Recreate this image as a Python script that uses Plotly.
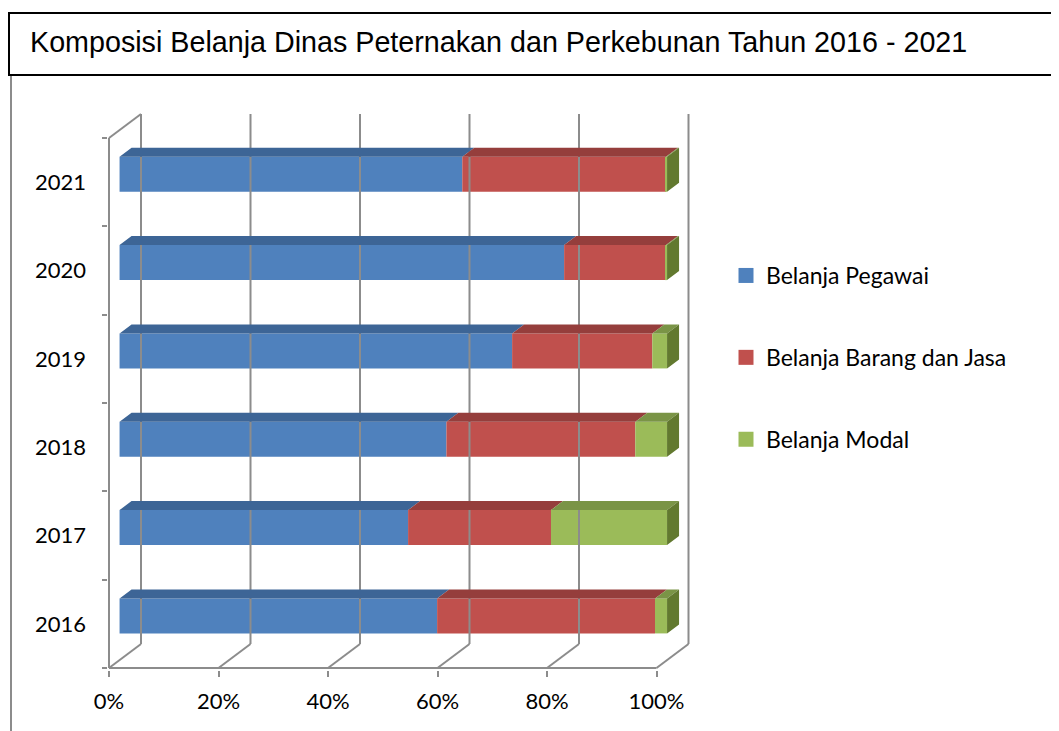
import plotly.graph_objects as go

# ---------------- data ----------------
years = ["2016", "2017", "2018", "2019", "2020", "2021"]
belanja_pegawai = [58.0, 52.7, 59.7, 71.7, 81.2, 62.6]
belanja_barang_jasa = [39.8, 26.1, 34.5, 25.6, 18.6, 37.2]
belanja_modal = [2.2, 21.2, 5.8, 2.7, 0.2, 0.2]
series_names = ["Belanja Pegawai", "Belanja Barang dan Jasa", "Belanja Modal"]
x_ticks = [0, 20, 40, 60, 80, 100]
x_tick_labels = ["0%", "20%", "40%", "60%", "80%", "100%"]
title_text = "Komposisi Belanja Dinas Peternakan dan Perkebunan Tahun 2016 - 2021"

# ---------------- styles ----------------
front_colors = ["#4F81BD", "#C0504D", "#9BBB59"]
top_colors = ["#3D6596", "#953E3C", "#7A9446"]
side_colors = ["#345783", "#7F3533", "#62792F"]
grid_color = "#8C8C8C"
label_font = "Lato, Calibri, sans-serif"

# ---------------- geometry (screen px, page body has 8px margin) ----------------
W, H = 1059, 731
OFF = 8
PL, PR, PT, PB = 108, 700, 110, 670       # plot area on screen
ML, MR, MT, MB = PL - OFF, W - (PR - OFF), PT - OFF, H - (PB - OFF)
PW = PR - PL
PH = PB - PT
XPX = 5.475   # px per percent
YPX = 88.33   # px per category
x_min = -1.0 / XPX
x_max = x_min + PW / XPX
y_min = -0.5 - 2.0 / YPX
y_max = y_min + PH / YPX


def depth(f):
    return f * 32 / XPX, f * 24 / YPX


Dx, Dy = depth(1.0)          # front plane -> back wall
bfx, bfy = depth(0.33)       # front face of bars
bbx, bby = depth(0.705)      # back face of bars
bar_h = 35 / YPX


def px_x(p):
    return (p - PL) / PW


def px_y(p):
    return (PB - p) / PH


n = len(years)
cats = list(range(n))
series = [belanja_pegawai, belanja_barang_jasa, belanja_modal]
totals = [sum(s[i] for s in series) for i in cats]

fig = go.Figure()

# ---------------- frame / gridlines ----------------
gx, gy = [], []
y_lo, y_hi = -0.5, n - 0.5
for t in x_ticks:
    gx += [t + Dx, t + Dx, None]
    gy += [y_lo + Dy, y_hi + Dy, None]
    gx += [t, t + Dx, None]
    gy += [y_lo, y_lo + Dy, None]
gx += [x_ticks[0], x_ticks[-1], None]
gy += [y_lo, y_lo, None]
gx += [x_ticks[0], x_ticks[0], None]
gy += [y_lo, y_hi, None]
gx += [x_ticks[0], x_ticks[0] + Dx, None]
gy += [y_hi, y_hi + Dy, None]
fig.add_trace(go.Scatter(x=gx, y=gy, mode="lines",
                         line=dict(color=grid_color, width=2),
                         hoverinfo="skip", showlegend=False))

# ---------------- bars ----------------
cum = [0.0] * n
ddx, ddy = bbx - bfx, bby - bfy
for k, vals in enumerate(series):
    bases = [cum[i] + bfx for i in cats]
    fig.add_trace(go.Bar(orientation="h", y=[i + bfy for i in cats], x=vals,
                         base=bases, width=bar_h,
                         marker=dict(color=front_colors[k], line=dict(width=0)),
                         hoverinfo="skip", showlegend=False))
    tx, ty = [], []
    for i in cats:
        x0 = cum[i] + bfx
        x1 = cum[i] + vals[i] + bfx
        yt = i + bfy + bar_h / 2
        tx += [x0, x1, x1 + ddx, x0 + ddx, x0, None]
        ty += [yt, yt, yt + ddy, yt + ddy, yt, None]
    fig.add_trace(go.Scatter(x=tx, y=ty, mode="lines", fill="toself",
                             fillcolor=top_colors[k], line=dict(width=0),
                             hoverinfo="skip", showlegend=False))
    cum = [cum[i] + vals[i] for i in cats]

# side faces (last visible segment)
for k in range(len(series)):
    sx, sy = [], []
    for i in cats:
        last = max(j for j in range(len(series)) if series[j][i] > 0)
        if last != k:
            continue
        xr = totals[i] + bfx
        yb = i + bfy - bar_h / 2
        yt = i + bfy + bar_h / 2
        sx += [xr, xr, xr + ddx, xr + ddx, xr, None]
        sy += [yb, yt, yt + ddy, yb + ddy, yb, None]
    if sx:
        fig.add_trace(go.Scatter(x=sx, y=sy, mode="lines", fill="toself",
                                 fillcolor=side_colors[k], line=dict(width=0),
                                 hoverinfo="skip", showlegend=False))

# ---------------- legend entries ----------------
for k, name in enumerate(series_names):
    fig.add_trace(go.Scatter(x=[None], y=[None], mode="markers", name=name,
                             legendgroup=name,
                             marker=dict(symbol="square", size=15,
                                         color=front_colors[k])))

# ---------------- layout ----------------
fig.update_layout(
    width=W, height=H,
    margin=dict(l=ML, r=MR, t=MT, b=MB, pad=0),
    paper_bgcolor="white", plot_bgcolor="white",
    barmode="overlay",
    hovermode=False,
    font=dict(family=label_font, size=22, color="black"),
    title=dict(text=title_text, x=(30 - OFF) / W, xanchor="left", xref="container",
               y=1 - (42 - OFF) / H, yanchor="middle", yref="container",
               font=dict(family="Liberation Sans, Arial, sans-serif",
                         size=28.7, color="black")),
    xaxis=dict(range=[x_min, x_max], tickvals=x_ticks, ticktext=x_tick_labels,
               ticks="outside", ticklen=6, tickwidth=2, tickcolor=grid_color,
               ticklabelstandoff=6,
               showgrid=False, zeroline=False, showline=False, fixedrange=True),
    yaxis=dict(range=[y_min, y_max], tickvals=cats, ticktext=years, ticks="",
               ticklabelstandoff=21,
               minor=dict(tickvals=[i - 0.5 for i in range(n + 1)],
                          ticks="outside", ticklen=5, tickwidth=2,
                          tickcolor=grid_color, showgrid=False),
               showgrid=False, zeroline=False, showline=False, fixedrange=True),
    legend=dict(x=px_x(726), y=px_y(254), xanchor="left", yanchor="top",
                traceorder="grouped", tracegroupgap=49, itemsizing="trace",
                bgcolor="rgba(0,0,0,0)", font=dict(size=23)),
    shapes=[
        dict(type="rect", xref="paper", yref="paper",
             x0=px_x(9), x1=px_x(1075), y0=px_y(13), y1=px_y(75),
             line=dict(color="black", width=2), fillcolor="rgba(0,0,0,0)",
             layer="above"),
        dict(type="line", xref="paper", yref="paper",
             x0=px_x(11), x1=px_x(11), y0=px_y(76), y1=px_y(745),
             line=dict(color=grid_color, width=2)),
    ],
)

fig.write_html("out.html")
